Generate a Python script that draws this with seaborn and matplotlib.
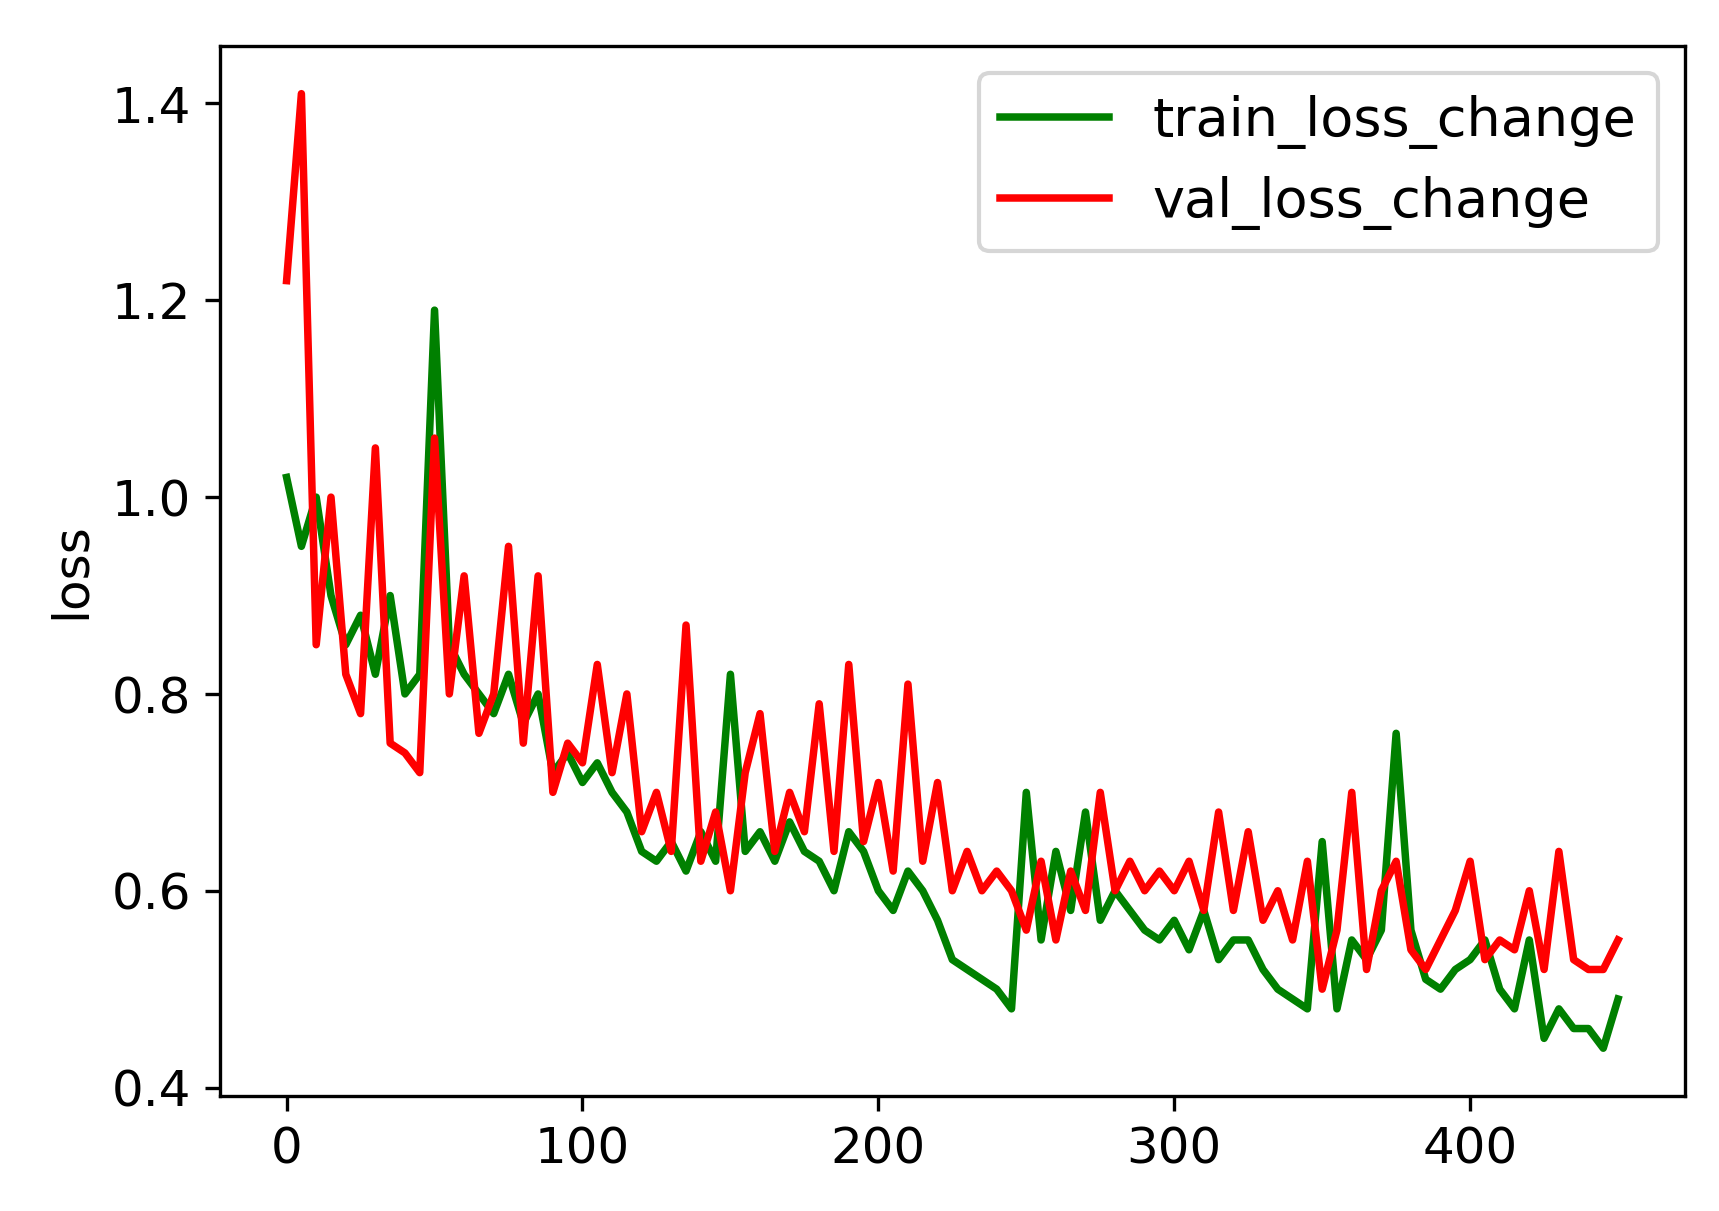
import numpy as np
import pandas as pd
import matplotlib
matplotlib.use("Agg")
import matplotlib.pyplot as plt
import seaborn as sns

epochs = list(range(0, 451, 5))

train_loss = [1.02, 0.95, 1.00, 0.90, 0.85, 0.88, 0.82, 0.90, 0.80, 0.82,
              1.19, 0.85, 0.82, 0.80, 0.78, 0.82, 0.77, 0.80, 0.72, 0.74,
              0.71, 0.73, 0.70, 0.68, 0.64, 0.63, 0.65, 0.62, 0.66, 0.63,
              0.82, 0.64, 0.66, 0.63, 0.67, 0.64, 0.63, 0.60, 0.66, 0.64,
              0.60, 0.58, 0.62, 0.60, 0.57, 0.53, 0.52, 0.51, 0.50, 0.48,
              0.70, 0.55, 0.64, 0.58, 0.68, 0.57, 0.60, 0.58, 0.56, 0.55,
              0.57, 0.54, 0.58, 0.53, 0.55, 0.55, 0.52, 0.50, 0.49, 0.48,
              0.65, 0.48, 0.55, 0.53, 0.56, 0.76, 0.56, 0.51, 0.50, 0.52,
              0.53, 0.55, 0.50, 0.48, 0.55, 0.45, 0.48, 0.46, 0.46, 0.44,
              0.49]

val_loss = [1.22, 1.41, 0.85, 1.00, 0.82, 0.78, 1.05, 0.75, 0.74, 0.72,
            1.06, 0.80, 0.92, 0.76, 0.80, 0.95, 0.75, 0.92, 0.70, 0.75,
            0.73, 0.83, 0.72, 0.80, 0.66, 0.70, 0.64, 0.87, 0.63, 0.68,
            0.60, 0.72, 0.78, 0.64, 0.70, 0.66, 0.79, 0.64, 0.83, 0.65,
            0.71, 0.62, 0.81, 0.63, 0.71, 0.60, 0.64, 0.60, 0.62, 0.60,
            0.56, 0.63, 0.55, 0.62, 0.58, 0.70, 0.60, 0.63, 0.60, 0.62,
            0.60, 0.63, 0.58, 0.68, 0.58, 0.66, 0.57, 0.60, 0.55, 0.63,
            0.50, 0.56, 0.70, 0.52, 0.60, 0.63, 0.54, 0.52, 0.55, 0.58,
            0.63, 0.53, 0.55, 0.54, 0.60, 0.52, 0.64, 0.53, 0.52, 0.52,
            0.55]

df = pd.DataFrame({'epoch': epochs, 'train_loss_change': train_loss, 'val_loss_change': val_loss})

plt.rcParams['font.size'] = 12
fig, ax = plt.subplots(figsize=(5.73, 4.037), dpi=300)
sns.lineplot(data=df, x='epoch', y='train_loss_change', color='green', label='train_loss_change', ax=ax, linewidth=1.8)
sns.lineplot(data=df, x='epoch', y='val_loss_change', color='red', label='val_loss_change', ax=ax, linewidth=1.8)
ax.set_xlabel('')
ax.set_ylabel('loss', fontsize=12)
ax.set_yticks([0.4, 0.6, 0.8, 1.0, 1.2, 1.4])
ax.tick_params(labelsize=12)
ax.legend(loc='upper right', fontsize=13)
fig.subplots_adjust(left=0.128, right=0.98, top=0.962, bottom=0.095)
fig.savefig('out.png')
